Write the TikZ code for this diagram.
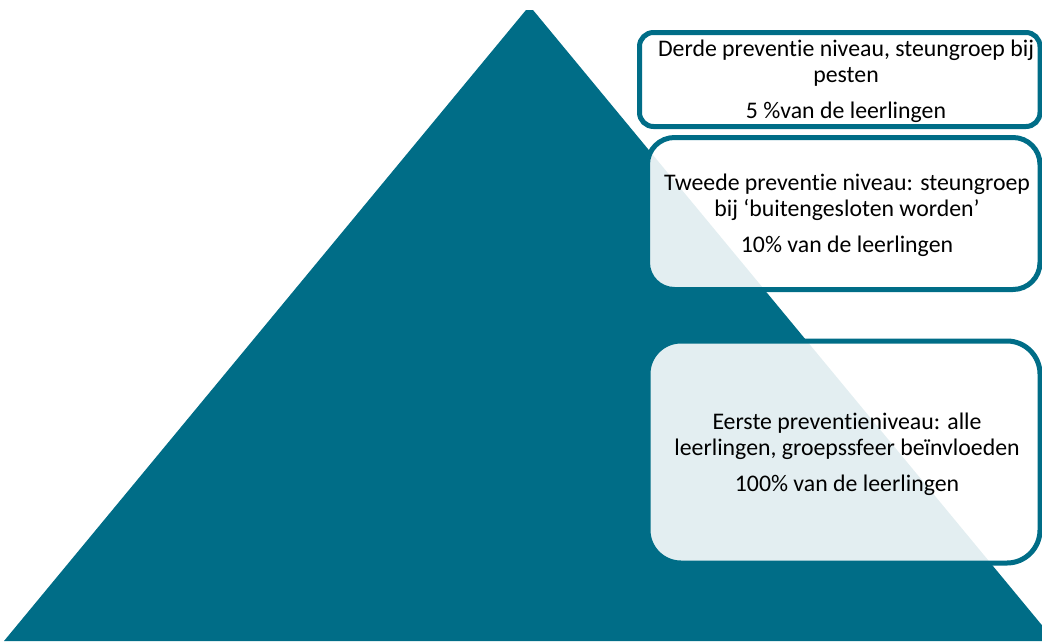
\documentclass[tikz,border=0pt]{standalone}
\usepackage{fontspec}
\setmainfont{Carlito}[Ligatures={NoCommon}]
\definecolor{pyrteal}{HTML}{006D87}
\begin{document}
\begin{tikzpicture}[x=1pt,y=-1pt,
  lvlbox/.style={draw=pyrteal, line width=5pt, fill=white, fill opacity=0.89, rounded corners=#1, inner sep=0pt},
  lvltext/.style={text=black, align=center, font=\fontsize{23.8}{26}\selectfont, inner sep=0pt}]
\useasboundingbox (0,0) rectangle (1042,641);
\clip (0,0) rectangle (1042,641);
\fill[pyrteal] (526,10) -- (533,10) -- (1055,641) -- (4,641) -- cycle;
\node[lvlbox=14pt, minimum width=400.5pt, minimum height=94pt] (b1) at (839.75,79.5) {};
\node[lvlbox=27pt, minimum width=392.5pt, minimum height=152pt] (b2) at (843.75,213.5) {};
\node[lvlbox=33pt, minimum width=392pt, minimum height=222pt] (b3) at (844,452) {};
\node[lvltext] (t1) at (846,81) {Derde preventie niveau, steungroep bij\\pesten\\[10pt]5 \%van de leerlingen};
\node[lvltext] (t2) at (847,215) {Tweede preventie niveau: steungroep\\bij ‘buitengesloten worden’\\[10pt]10\% van de leerlingen};
\node[lvltext] (t3) at (847,454) {Eerste preventieniveau: alle\\leerlingen, groepssfeer beïnvloeden\\[10pt]100\% van de leerlingen};
\end{tikzpicture}
\end{document}
